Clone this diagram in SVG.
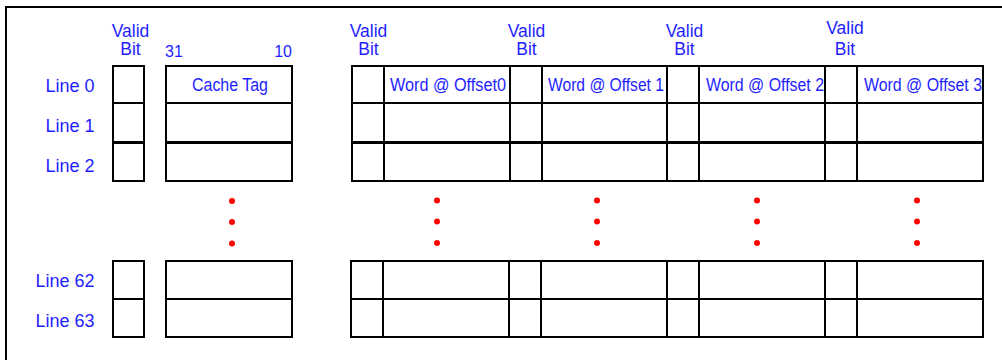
<svg xmlns="http://www.w3.org/2000/svg" width="1002" height="360" viewBox="0 0 1002 360">
<style>
.t{font-family:"Liberation Sans",Arial,sans-serif;fill:#1e1eff;font-size:17.5px}
.l{font-size:18px}
.n{font-size:16px}
.c{text-anchor:middle}
.e{text-anchor:end}
.box{fill:none;stroke:#000;stroke-width:2}
.ln{stroke:#000;stroke-width:2;fill:none}
.thick{stroke-width:3}
.dot{fill:#ff0000}
</style>
<rect x="0" y="0" width="1002" height="360" fill="#fff"/>
<path d="M6,360 V7 H1002" fill="none" stroke="#000" stroke-width="2"/>

<g id="line-labels">
<text class="t l e" x="94.5" y="92">Line 0</text>
<text class="t l e" x="94.5" y="132">Line 1</text>
<text class="t l e" x="94.5" y="172">Line 2</text>
<text class="t l e" x="94.5" y="287">Line 62</text>
<text class="t l e" x="94.5" y="327">Line 63</text>
</g>

<g id="valid-bit-labels">
<text class="t c" x="130.5" y="36.5">Valid</text>
<text class="t c" x="130.5" y="54.5">Bit</text>
<text class="t c" x="368.5" y="36.5">Valid</text>
<text class="t c" x="368.5" y="54.5">Bit</text>
<text class="t c" x="526.5" y="36.5">Valid</text>
<text class="t c" x="526.5" y="54.5">Bit</text>
<text class="t c" x="684.5" y="36.5">Valid</text>
<text class="t c" x="684.5" y="54.5">Bit</text>
<text class="t c" x="845" y="34">Valid</text>
<text class="t c" x="845" y="54.5">Bit</text>
</g>

<g id="tag-bit-labels">
<text class="t n" x="165" y="57">31</text>
<text class="t n e" x="292" y="57">10</text>
</g>

<g id="valid-column">
<rect class="box" x="113" y="66" width="31" height="115"/>
<path class="ln" d="M113,103 H144"/>
<path class="ln thick" d="M113,142.5 H144"/>
<rect class="box" x="113" y="261" width="31" height="76"/>
<path class="ln" d="M113,299 H144"/>
</g>

<g id="tag-column">
<rect class="box" x="166" y="66" width="126" height="115"/>
<path class="ln" d="M166,103 H292"/>
<path class="ln thick" d="M166,142.5 H292"/>
<rect class="box" x="166" y="261" width="126" height="76"/>
<path class="ln" d="M166,299 H292"/>
<text class="t" x="192" y="91" textLength="76" lengthAdjust="spacingAndGlyphs">Cache Tag</text>
</g>

<g id="data-block-top">
<rect class="box" x="352" y="66" width="631" height="115"/>
<path class="ln" d="M352,103 H983"/>
<path class="ln thick" d="M352,142.5 H983"/>
<path class="ln" d="M384,66 V181 M510,66 V181 M542,66 V181 M667,66 V181 M699,66 V181 M825,66 V181 M857,66 V181"/>
<text class="t" x="390" y="91" textLength="116" lengthAdjust="spacingAndGlyphs">Word @ Offset0</text>
<text class="t" x="548" y="91" textLength="116" lengthAdjust="spacingAndGlyphs">Word @ Offset 1</text>
<text class="t" x="706" y="91" textLength="118" lengthAdjust="spacingAndGlyphs">Word @ Offset 2</text>
<text class="t" x="864" y="91" textLength="118" lengthAdjust="spacingAndGlyphs">Word @ Offset 3</text>
</g>

<g id="data-block-bottom">
<rect class="box" x="351" y="261" width="632" height="76"/>
<path class="ln" d="M351,299 H983"/>
<path class="ln" d="M383,261 V337 M509,261 V337 M541,261 V337 M667,261 V337 M699,261 V337 M825,261 V337 M857,261 V337"/>
</g>

<g id="ellipsis-dots">
<circle class="dot" cx="232" cy="201" r="3"/><circle class="dot" cx="232" cy="222" r="3"/><circle class="dot" cx="232" cy="243.5" r="3"/>
<circle class="dot" cx="437" cy="200.5" r="3"/><circle class="dot" cx="437" cy="221.5" r="3"/><circle class="dot" cx="437" cy="243" r="3"/>
<circle class="dot" cx="597" cy="200.5" r="3"/><circle class="dot" cx="597" cy="221.5" r="3"/><circle class="dot" cx="597" cy="243" r="3"/>
<circle class="dot" cx="757" cy="200.5" r="3"/><circle class="dot" cx="757" cy="221.5" r="3"/><circle class="dot" cx="757" cy="243" r="3"/>
<circle class="dot" cx="917" cy="200.5" r="3"/><circle class="dot" cx="917" cy="221.5" r="3"/><circle class="dot" cx="917" cy="243" r="3"/>
</g>

<g id="connectors"></g>
</svg>
